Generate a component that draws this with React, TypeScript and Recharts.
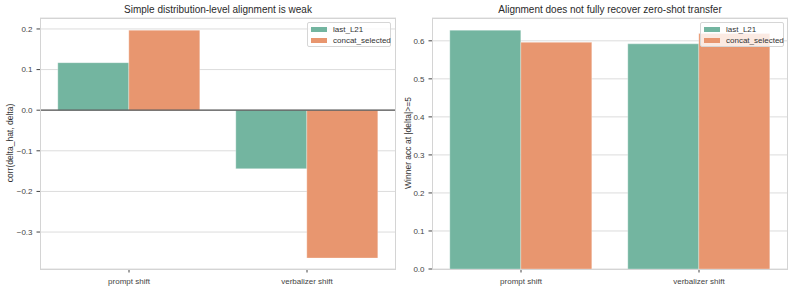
import React from "react";
import { BarChart, Bar, XAxis, YAxis, CartesianGrid, ReferenceLine } from "recharts";

const categories = ["prompt shift", "verbalizer shift"];
const seriesNames = ["last_L21", "concat_selected"];
const seriesColors = ["#73b5a0", "#e8966f"];

// correlation of predicted vs true delta
const corrLast = [0.117, -0.144];
const corrConcat = [0.197, -0.364];
const corrTicks = [-0.3, -0.2, -0.1, 0, 0.1, 0.2];

// winner accuracy on large-delta pairs
const accLast = [0.628, 0.592];
const accConcat = [0.596, 0.619];
const accTicks = [0, 0.1, 0.2, 0.3, 0.4, 0.5, 0.6];

const corrData = categories.map((c, i) => ({ name: c, last: corrLast[i], concat: corrConcat[i] }));
const accData = categories.map((c, i) => ({ name: c, last: accLast[i], concat: accConcat[i] }));

const FONT = '"Liberation Sans", Arial, sans-serif';
const fmt = (v: number) => v.toFixed(1).replace("-", "\u2212");
const tickStyle = { fontSize: 8, fill: "#444" };

// category label under each x tick
function CatTick(props: any) {
  const { x, y, payload } = props;
  return (
    <text x={x} y={y + 8} textAnchor="middle" fontSize={8} fill="#444" stroke="none">
      {payload.value}
    </text>
  );
}

function LegendBox({ left, top }: { left: number; top: number }) {
  return (
    <div
      style={{
        position: "absolute",
        left,
        top,
        width: 84,
        height: 25,
        background: "rgba(255,255,255,0.8)",
        border: "1px solid #d6d6d6",
        borderRadius: 2,
        boxSizing: "border-box",
        fontSize: 8,
        color: "#333",
      }}
    >
      {seriesNames.map((n, i) => (
        <div key={n} style={{ position: "absolute", left: 3, top: 1 + i * 11, height: 10, display: "flex", alignItems: "center" }}>
          <span style={{ display: "inline-block", width: 16, height: 5, background: seriesColors[i], marginRight: 6 }} />
          <span>{n}</span>
        </div>
      ))}
    </div>
  );
}

function Frame({ left, top, width, height }: { left: number; top: number; width: number; height: number }) {
  return (
    <div
      style={{
        position: "absolute",
        left,
        top,
        width,
        height,
        border: "1.2px solid #d4d4d4",
        boxSizing: "border-box",
        pointerEvents: "none",
      }}
    />
  );
}

function Title({ x, text }: { x: number; text: string }) {
  return (
    <div style={{ position: "absolute", left: x - 150, top: 4, width: 300, textAlign: "center", fontSize: 10, color: "#2a2a2a" }}>
      {text}
    </div>
  );
}

function YLabel({ x, y, text }: { x: number; y: number; text: string }) {
  return (
    <div
      style={{
        position: "absolute",
        left: x - 100,
        top: y - 6,
        width: 200,
        height: 12,
        lineHeight: "12px",
        textAlign: "center",
        fontSize: 8.5,
        color: "#333",
        transform: "rotate(-90deg)",
      }}
    >
      {text}
    </div>
  );
}

export default function App() {
  return (
    <div style={{ position: "absolute", left: 0, top: 0, width: 795, height: 290, background: "#fff", fontFamily: FONT }}>
      <div style={{ position: "absolute", left: 0, top: 0 }}>
        <BarChart width={400} height={290} data={corrData} margin={{ top: 18, right: 4, bottom: 0, left: 0 }} barCategoryGap="10%" barGap={0}>
          <CartesianGrid vertical={false} stroke="#dcdcdc" strokeWidth={1} />
          <XAxis dataKey="name" height={21} axisLine={false} tickSize={3.5} tickMargin={3} tickLine={{ stroke: "#444" }} tick={<CatTick />} interval={0} />
          <YAxis
            width={40}
            domain={[-0.391, 0.227]}
            ticks={corrTicks}
            tickFormatter={fmt}
            axisLine={false}
            tickSize={3.5}
            tickMargin={4}
            tickLine={{ stroke: "#444" }}
            tick={tickStyle}
            allowDataOverflow
          />
          <Bar dataKey="last" fill={seriesColors[0]} stroke="#fff" strokeOpacity={0.5} strokeWidth={0.6} isAnimationActive={false} />
          <Bar dataKey="concat" fill={seriesColors[1]} stroke="#fff" strokeOpacity={0.5} strokeWidth={0.6} isAnimationActive={false} />
          <ReferenceLine y={0} stroke="#555" strokeWidth={1.2} />
        </BarChart>
      </div>
      <div style={{ position: "absolute", left: 400, top: 0 }}>
        <BarChart width={395} height={290} data={accData} margin={{ top: 18, right: 7, bottom: 0, left: 0 }} barCategoryGap="10%" barGap={0}>
          <CartesianGrid vertical={false} stroke="#dcdcdc" strokeWidth={1} />
          <XAxis dataKey="name" height={21} axisLine={false} tickSize={3.5} tickMargin={3} tickLine={{ stroke: "#444" }} tick={<CatTick />} interval={0} />
          <YAxis
            width={32}
            domain={[0, 0.66]}
            ticks={accTicks}
            tickFormatter={fmt}
            axisLine={false}
            tickSize={3.5}
            tickMargin={4}
            tickLine={{ stroke: "#444" }}
            tick={tickStyle}
            allowDataOverflow
          />
          <Bar dataKey="last" fill={seriesColors[0]} stroke="#fff" strokeOpacity={0.5} strokeWidth={0.6} isAnimationActive={false} />
          <Bar dataKey="concat" fill={seriesColors[1]} stroke="#fff" strokeOpacity={0.5} strokeWidth={0.6} isAnimationActive={false} />
        </BarChart>
      </div>
      <Frame left={40} top={18} width={356} height={251.5} />
      <Frame left={432} top={18} width={356} height={251.5} />
      <Title x={218} text="Simple distribution-level alignment is weak" />
      <Title x={610} text="Alignment does not fully recover zero-shot transfer" />
      <YLabel x={10} y={143} text="corr(delta_hat, delta)" />
      <YLabel x={407.5} y={143} text="Winner acc at |delta|>=5" />
      <LegendBox left={307} top={22} />
      <LegendBox left={700} top={22} />
    </div>
  );
}
